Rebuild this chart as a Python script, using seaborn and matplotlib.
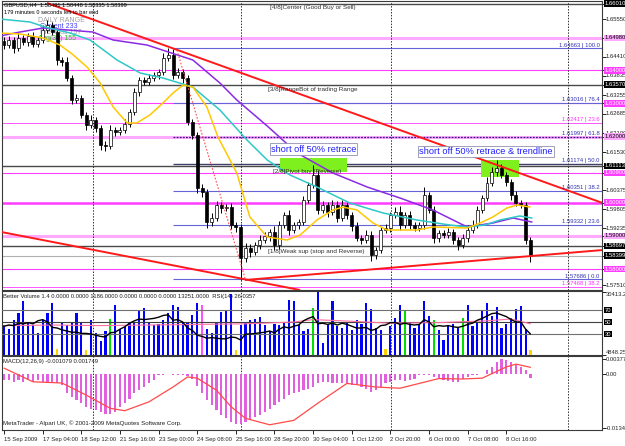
import numpy as np
import pandas as pd
import matplotlib
matplotlib.use("Agg")
import matplotlib.pyplot as plt
import matplotlib.transforms as mtrans
from matplotlib.patches import Rectangle
import seaborn as sns

# ---------------- data ----------------
first_open = 1.64900
closes = [1.64765, 1.64916, 1.64674, 1.64976, 1.64855, 1.65037, 1.64795, 1.64916, 1.65218, 1.65369,
          1.65157, 1.64312, 1.64251, 1.63768, 1.63104, 1.63164, 1.62651, 1.62349, 1.62500, 1.62258,
          1.61745, 1.61715, 1.62198, 1.62137, 1.62198, 1.62379, 1.62741, 1.63345, 1.63708, 1.63647,
          1.63768, 1.63859, 1.63949, 1.64372, 1.64463, 1.63859, 1.63949, 1.63768, 1.62439, 1.62047,
          1.60446, 1.60325, 1.59419, 1.59540, 1.59933, 1.59842, 1.59872, 1.59329, 1.59269, 1.58332,
          1.58634, 1.58513, 1.58725, 1.58876, 1.58997, 1.59117, 1.58725, 1.59329, 1.59631, 1.59178,
          1.59329, 1.59419, 1.60084, 1.60537, 1.60839, 1.59782, 1.59933, 1.59721, 1.59933, 1.59540,
          1.59933, 1.59631, 1.59299, 1.58936, 1.58876, 1.59027, 1.58423, 1.58574, 1.59178, 1.59238,
          1.59631, 1.59721, 1.59329, 1.59631, 1.59329, 1.59238, 1.59329, 1.60235, 1.59782, 1.58936,
          1.59087, 1.59027, 1.59117, 1.58876, 1.58725, 1.58936, 1.59178, 1.59329, 1.59782, 1.60144,
          1.60597, 1.60929, 1.61050, 1.60839, 1.60627, 1.60235, 1.59993, 1.59933, 1.58876, 1.58399]
up_wick_pips = [10, 12, 8, 14, 10, 9, 12, 10, 15, 16,
                10, 12, 8, 14, 8, 12, 10, 9, 14, 10,
                8, 12, 14, 10, 8, 16, 10, 12, 9, 10,
                12, 10, 9, 14, 20, 18, 12, 10, 9, 10,
                8, 12, 10, 14, 12, 10, 8, 12, 10, 9,
                16, 12, 10, 14, 12, 10, 18, 12, 10, 14,
                10, 9, 12, 10, 30, 14, 12, 10, 16, 12,
                14, 10, 9, 12, 10, 14, 12, 10, 9, 12,
                10, 14, 18, 10, 12, 10, 9, 24, 10, 12,
                10, 9, 12, 10, 8, 12, 14, 16, 12, 10,
                18, 14, 24, 12, 10, 9, 12, 8, 10, 8]
dn_wick_pips = [12, 9, 14, 10, 8, 12, 10, 9, 10, 8,
                9, 14, 12, 10, 12, 8, 10, 14, 9, 12,
                16, 14, 10, 12, 9, 10, 8, 10, 12, 10,
                9, 10, 12, 8, 10, 12, 10, 14, 10, 12,
                16, 14, 18, 12, 10, 14, 10, 12, 14, 65,
                12, 14, 10, 12, 10, 14, 16, 12, 10, 14,
                10, 12, 9, 10, 8, 12, 10, 14, 10, 12,
                10, 12, 14, 10, 12, 10, 18, 12, 10, 9,
                12, 10, 14, 10, 12, 9, 10, 12, 10, 14,
                12, 10, 9, 12, 14, 10, 12, 9, 10, 8,
                10, 9, 12, 10, 12, 14, 10, 9, 12, 18]

volumes = [14200, 12500, 16700, 20000, 25800, 15800, 14200, 10800, 16700, 20000,
           25000, 3000, 15800, 14200, 15800, 20000, 15800, 2500, 16700, 10800,
           6700, 11700, 17500, 24200, 12500, 13300, 15800, 15800, 21700, 22500,
           15800, 14200, 15000, 16700, 20000, 24200, 23300, 15800, 15800, 19200,
           25000, 24200, 12500, 10800, 15800, 20800, 21200, 29200, 2500, 14200,
           15800, 16700, 17500, 18300, 14200, 11700, 15000, 14200, 15800, 26700,
           25800, 14200, 11700, 12500, 22500, 30400, 6000, 15000, 26000, 14000,
           13000, 16000, 12000, 17000, 15000, 25000, 22000, 13000, 12000, 3000,
           14000, 18000, 24000, 21000, 16000, 13000, 15000, 26000, 19000, 17000,
           12000, 7000, 14000, 15000, 13000, 18000, 24000, 14000, 16000, 21000,
           25000, 19000, 23000, 13000, 15000, 18000, 22000, 23500, 12500, 2500]
vol_green = [22, 64, 83, 89, 95]
vol_yellow = [11, 17, 48, 79, 109]
vol_magenta = [41]

rsi = [43, 45, 44, 48, 47, 49, 47, 52, 54, 50,
       41, 40, 37, 35, 33, 33, 31, 31, 30, 28,
       26, 25, 32, 33, 38, 42, 48, 52, 55, 54,
       55, 56, 58, 61, 62, 53, 54, 50, 40, 36,
       28, 26, 23, 24, 23, 22, 22, 25, 24, 20,
       30, 30, 31, 32, 33, 35, 32, 38, 42, 40,
       43, 45, 52, 56, 59, 47, 48, 46, 48, 45,
       48, 46, 43, 40, 40, 41, 36, 38, 44, 45,
       49, 49, 46, 48, 46, 45, 46, 54, 50, 42,
       44, 43, 44, 42, 41, 43, 46, 48, 53, 56,
       60, 64, 65, 62, 59, 54, 50, 50, 38, 30]
rsi_sig_bars = [0, 10, 20, 30, 40, 50, 60, 64, 70, 80, 90, 100, 105, 109]
rsi_sig_vals = [44, 45, 44, 45, 46, 47, 50, 54, 52, 48, 49, 52, 55, 47]

macd = [-0.0015, -0.0015, -0.0019, -0.0015, -0.0019, -0.0015, -0.0019, -0.0015, -0.0019, -0.0019,
        -0.0019, -0.0023, -0.0027, -0.0048, -0.0056, -0.0065, -0.0073, -0.0081, -0.0086, -0.0090,
        -0.0094, -0.0098, -0.0098, -0.0094, -0.0081, -0.0073, -0.0061, -0.0048, -0.0040, -0.0032,
        -0.0023, -0.0015, -0.0003, -0.0001, 0.0001, -0.0001, -0.0002, -0.0003, -0.0004, -0.0012,
        -0.0030, -0.0048, -0.0065, -0.0077, -0.0090, -0.0102, -0.0110, -0.0119, -0.0123, -0.0123,
        -0.0119, -0.0115, -0.0106, -0.0102, -0.0094, -0.0086, -0.0077, -0.0069, -0.0061, -0.0052,
        -0.0048, -0.0044, -0.0040, -0.0036, -0.0032, -0.0021, -0.0019, -0.0019, -0.0021, -0.0023,
        -0.0021, -0.0023, -0.0027, -0.0027, -0.0032, -0.0036, -0.0044, -0.0040, -0.0032, -0.0023,
        -0.0019, -0.0015, -0.0015, -0.0017, -0.0015, -0.0013, -0.0002, -0.0001, -0.0002, -0.0008,
        -0.0013, -0.0015, -0.0017, -0.0019, -0.0019, -0.0013, -0.0007, -0.0002, -0.0001, 0.0000,
        0.0010, 0.0018, 0.0031, 0.0038, 0.0035, 0.0031, 0.0023, 0.0018, 0.0011, -0.001079]
signal_bars = [0, 6, 12, 17, 22, 25, 30, 35, 38, 40, 44, 47, 50, 55, 60, 65, 71, 77, 82, 90, 95, 99, 104, 106, 109]
signal_vals = [0.0015, -0.0019, -0.0022, -0.0052, -0.0085, -0.0091, -0.0069, -0.0032, -0.0007, -0.0010,
               -0.0040, -0.0081, -0.0110, -0.0126, -0.0115, -0.0072, -0.0023, -0.0032, -0.0035, -0.0011,
               -0.0012, -0.0010, 0.0018, 0.0025, 0.0017]

ma_fast_bars = [-0.8, 3.3, 8.1, 11.6, 14.1, 17.2, 19.9, 22.6, 25.5, 27.5, 30.2, 32.9, 35.0, 37.1, 39.1,
                42.0, 44.3, 48.2, 50.9, 54.5, 58.6, 61.3, 64.8, 68.1, 70.2, 73.1, 76.4, 79.3, 85.5,
                88.8, 95.9, 98.6, 101.2, 104.1, 106.2, 108.9]
ma_fast_vals = [1.65127, 1.65097, 1.64976, 1.64765, 1.64493, 1.64100, 1.63617, 1.62892, 1.62409, 1.62409,
                1.62651, 1.63013, 1.63315, 1.63557, 1.63496, 1.62892, 1.61986, 1.60899, 1.59570, 1.58966,
                1.58876, 1.59027, 1.59480, 1.59782, 1.59872, 1.59782, 1.59389, 1.59178, 1.59178, 1.59269,
                1.59238, 1.59389, 1.59570, 1.59842, 1.59933, 1.59872]
ma_mid_bars = [-0.8, 5.4, 8.5, 13.7, 17.8, 23.4, 28.2, 32.9, 39.1, 44.7, 50.3, 54.5, 59.2, 64.8, 71.6,
               78.5, 85.5, 92.3, 95.9, 99.6, 102.7, 106.8, 109.3]
ma_mid_vals = [1.65550, 1.65459, 1.65308, 1.65127, 1.64916, 1.64312, 1.63919, 1.63768, 1.63496, 1.62802,
               1.61896, 1.61292, 1.60839, 1.60476, 1.59993, 1.59691, 1.59480, 1.59329, 1.59269, 1.59329,
               1.59480, 1.59601, 1.59540]
ma_slow_bars = [-0.8, 3.3, 8.1, 18.4, 22.6, 29.6, 39.1, 44.7, 48.2, 54.5, 60.7, 68.1, 75.2, 82.0, 88.8,
                95.9, 101.2, 105.4, 109.3]
ma_slow_vals = [1.65037, 1.65157, 1.65278, 1.65157, 1.64916, 1.64765, 1.64312, 1.63617, 1.63104, 1.62319,
                1.61503, 1.60899, 1.60476, 1.60144, 1.59782, 1.59269, 1.59389, 1.59540, 1.59419]

trend_upper = ([8.9, 124.0], [1.66033, 1.59990])
trend_lower_left = ([-1.0, 61.3], [1.59130, 1.57366])
trend_support = ([49.9, 124.0], [1.57668, 1.58574])
trend_dotted = ([35.8, 49.9], [1.64614, 1.57728])

murrey_levels = [1.66010, 1.63570, 1.61113, 1.58697]
round_thin_levels = [1.64000, 1.63000, 1.60900, 1.58000]
round_thick_levels = [1.64980, 1.62000, 1.59000]
round_main_level = 1.60000
bid_level = 1.58399
fib_start_bar = 35.0
fib_levels = [1.64663, 1.63016, 1.61997, 1.61174, 1.60351, 1.59332, 1.57686]
fib_labels = ["1.64663 | 100.0", "1.63016 | 76.4", "1.61997 | 61.8", "1.61174 | 50.0",
              "1.60351 | 38.2", "1.59332 | 23.6", "1.57686 | 0.0"]
fib2_levels = [1.62417, 1.57468]
fib2_labels = ["1.62417 | 23.6", "1.57468 | 38.2"]

price_ticks = [1.65550, 1.64410, 1.63835, 1.63255, 1.62685, 1.62100, 1.61530, 1.60375, 1.59805, 1.59235, 1.57510]
week_separators = [18.4, 49.1, 80.1, 116.8]
x_tick_bars = [0, 8, 16, 24, 32, 40, 48, 56, 64, 72, 80, 88, 96, 104]
x_tick_labels = ["15 Sep 2009", "17 Sep 04:00", "18 Sep 12:00", "21 Sep 16:00", "23 Sep 00:00",
                 "24 Sep 08:00", "25 Sep 16:00", "28 Sep 20:00", "30 Sep 04:00", "1 Oct 12:00",
                 "2 Oct 20:00", "6 Oct 00:00", "7 Oct 08:00", "8 Oct 16:00"]

assert len(closes) == len(up_wick_pips) == len(dn_wick_pips) == len(volumes) == len(rsi) == len(macd) == 110

# ---------------- style ----------------
sns.set_theme(style="white")
plt.rcParams['font.family'] = ['Liberation Sans', 'DejaVu Sans']
FS = 4.2
W, H = 625, 446
X0, DX = 4.0, 4.83
BLUE_FIB = '#6464d8'
MAG = '#ff3cff'
LPINK = '#ffaaff'
DGREY = '#4a4a4a'

fig = plt.figure(figsize=(W / 100, H / 100), dpi=100)
fig.patch.set_facecolor('white')


def rect(top, bottom):
    return [2 / W, 1 - bottom / H, 600 / W, (bottom - top) / H]


def ftext(x, y, s, **kw):
    kw.setdefault('fontsize', FS)
    kw.setdefault('va', 'center')
    return fig.text(x / W, 1 - y / H, s, **kw)


ax = fig.add_axes(rect(1, 290))
axv = fig.add_axes(rect(291, 355))
axr = fig.add_axes(rect(291, 355))
axr.patch.set_alpha(0)
axm = fig.add_axes(rect(356, 430))

xlim = ((2 - X0) / DX, (602 - X0) / DX)
idx = np.arange(len(closes))
closes_a = np.array(closes)
opens_a = np.r_[first_open, closes_a[:-1]]
highs = np.maximum(opens_a, closes_a) + np.array(up_wick_pips) * 1e-4
lows = np.minimum(opens_a, closes_a) - np.array(dn_wick_pips) * 1e-4

# ---------------- main price panel ----------------
for lv in murrey_levels:
    ax.axhline(lv, color=DGREY, lw=1.0, zorder=1)
for lv in round_thin_levels:
    ax.axhline(lv, color=MAG, lw=0.8, zorder=1)
for lv in round_thick_levels:
    ax.axhline(lv, color=LPINK, lw=2.2, zorder=1)
ax.axhline(round_main_level, color=MAG, lw=1.8, zorder=1)
ax.axhline(bid_level, color='#b0b0b0', lw=0.8, zorder=1)
for lv in fib2_levels:
    ax.axhline(lv, color='#ff55ff', lw=0.7, zorder=1)
for lv, lab in zip(fib_levels, fib_labels):
    if lab.endswith('61.8'):
        ax.hlines(lv, fib_start_bar, xlim[1], color='#302080', lw=0.9, ls=(0, (1.5, 1)), zorder=1.2)
    elif lab.endswith('50.0'):
        ax.hlines(lv, fib_start_bar, xlim[1], color='#40406a', lw=1.0, zorder=1.2)
    else:
        ax.hlines(lv, fib_start_bar, xlim[1], color=BLUE_FIB, lw=0.8, zorder=1.2)

# green highlight boxes
for (x0, y0, x1, y1) in [(280, 158, 347, 172), (481, 160, 519, 177)]:
    ax.add_patch(Rectangle((x0 / W, 1 - y1 / H), (x1 - x0) / W, (y1 - y0) / H,
                           transform=fig.transFigure, fc='#7ef01e', ec='none', zorder=1.5))

# candles
ax.vlines(idx, lows, highs, color='black', lw=0.7, zorder=3)
body_bot = np.minimum(opens_a, closes_a)
body_h = np.maximum(np.abs(closes_a - opens_a), 0.00008)
body_col = np.where(closes_a >= opens_a, 'white', 'black')
ax.bar(idx, body_h, bottom=body_bot, width=0.62, color=body_col, edgecolor='black', lw=0.5, zorder=3.1)

# moving averages
sns.lineplot(x=ma_slow_bars, y=ma_slow_vals, ax=ax, color='#8a2be2', linewidth=1.1, zorder=4)
sns.lineplot(x=ma_mid_bars, y=ma_mid_vals, ax=ax, color='#2ec8c8', linewidth=1.1, zorder=4)
sns.lineplot(x=ma_fast_bars, y=ma_fast_vals, ax=ax, color='#ffc800', linewidth=1.1, zorder=4)

# trendlines
for xs, ys in [trend_upper, trend_lower_left, trend_support]:
    ax.plot(xs, ys, color='#ff1a1a', lw=1.4, zorder=5, solid_capstyle='butt')
ax.plot(trend_dotted[0], trend_dotted[1], color='#ff5050', lw=0.8, ls=(0, (1.5, 1.5)), zorder=5)

for xb in week_separators:
    for a in (ax, axv, axm):
        a.axvline(xb, color='#303030', lw=0.7, ls=(0, (1.5, 1.5)), zorder=2)

ax.set_xlim(*xlim)
ax.set_ylim(1.57366, 1.66094)
ax.set_xlabel('')
ax.set_ylabel('')

# texts inside main panel
ftext(4, 5, "GBPUSD,H4  1.58491 1.58448 1.58335 1.58399", fontsize=4.1, color='black', zorder=7)
ftext(4, 12, "179 minutes 0 seconds left to bar end", fontsize=4.1, color='black', zorder=7)
ax.text(38 / W, 1 - 20 / H, "DAILY RANGE", transform=fig.transFigure, fontsize=5, color='#a0a0a0', va='center', zorder=2)
ax.text(40 / W, 1 - 26.5 / H, "Current 233", transform=fig.transFigure, fontsize=5, color='#4040ff', va='center', zorder=2)
ax.text(40 / W, 1 - 32.5 / H, "Previous 157", transform=fig.transFigure, fontsize=5, color='#a0a0a0', va='center', zorder=2)
ax.text(38 / W, 1 - 38.5 / H, "Avg(30) 155", transform=fig.transFigure, fontsize=5, color='#20c020', va='center', zorder=2)

ftext(270, 8, "[4/8]Center (Good Buy or Sell)", fontsize=4.6, color='#303030', zorder=7)
ftext(268, 89.5, "[3/8]RangeBot of trading Range", fontsize=4.6, color='#303030', zorder=7)
ftext(273, 171, "[2/8]Pivot buy (Reverse)", fontsize=4.6, color='#303030', zorder=7)
ftext(268, 252, "[1/8]Weak sup (stop and Reverse)", fontsize=4.6, color='#303030', zorder=7)

box_kw = dict(boxstyle='square,pad=0.12', fc='white', ec='#9090b0', lw=0.6)
ftext(313.5, 149, "short off 50% retrace", fontsize=6.6, color='#2020ff', ha='center', bbox=box_kw, zorder=8)
ftext(486, 151.5, "short off 50% retrace & trendline", fontsize=6.7, color='#2020ff', ha='center', bbox=box_kw, zorder=8)

blend = mtrans.blended_transform_factory(ax.transAxes, ax.transData)
for lv, lab in zip(fib_levels, fib_labels):
    ax.text(0.996, lv + 0.00025, lab, transform=blend, ha='right', va='bottom', fontsize=FS, color='#3232b4', zorder=7)
for lv, lab in zip(fib2_levels, fib2_labels):
    ax.text(0.996, lv + 0.00025, lab, transform=blend, ha='right', va='bottom', fontsize=FS, color='#ff30ff', zorder=7)

# right price axis
box_levels = murrey_levels + [bid_level] + round_thin_levels + round_thick_levels + [round_main_level]
all_ticks = price_ticks + box_levels
ax.set_yticks(all_ticks)
ax.tick_params(axis='y', right=True, left=False, labelleft=False, labelright=False,
               length=3, width=0.6, color='black', direction='out')
ax.tick_params(axis='x', bottom=False, labelbottom=False)
for lv in price_ticks:
    ax.text(1 + 4 / 600, lv, f"{lv:.5f}", transform=blend, ha='left', va='center', fontsize=FS,
            color='#202020', clip_on=False)


def boxed(axis, tr, val, s, fc, tc):
    axis.text(1 + 3 / 600, val, s, transform=tr, ha='left', va='center', fontsize=FS, color=tc,
              clip_on=False, bbox=dict(boxstyle='square,pad=0.15', fc=fc, ec='none'), zorder=9)


for lv in murrey_levels + [bid_level]:
    boxed(ax, blend, lv, f"{lv:.5f}", 'black', 'white')
for lv in round_thin_levels + [round_main_level]:
    boxed(ax, blend, lv, f"{lv:.5f}", MAG, 'white')
for lv in round_thick_levels:
    boxed(ax, blend, lv, f"{lv:.5f}", LPINK, 'black')

# ---------------- volume + RSI panel ----------------
vcols = ['#0000ff'] * len(volumes)
for i in vol_green:
    vcols[i] = '#00e000'
for i in vol_yellow:
    vcols[i] = '#ffd200'
for i in vol_magenta:
    vcols[i] = '#ff50ff'
axv.bar(idx, volumes, width=0.45, color=vcols, lw=0, zorder=3)
axv.set_xlim(*xlim)
axv.set_ylim(0, 30800)

for lv, c in [(70, '#707070'), (50, '#404040'), (30, '#707070')]:
    axr.axhline(lv, color=c, lw=0.8, zorder=1)
sns.lineplot(x=rsi_sig_bars, y=rsi_sig_vals, ax=axr, color='#ff6fa0', linewidth=0.8, zorder=4)
sns.lineplot(x=idx, y=rsi, ax=axr, color='black', linewidth=1.0, zorder=5)
axr.set_xlim(*xlim)
axr.set_ylim(-5, 101.7)
for a in (axv, axr):
    a.set_xlabel('')
    a.set_ylabel('')
axr.axis('off')
axv.tick_params(axis='x', bottom=False, labelbottom=False)
axv.set_yticks([30413.2, 0])
axv.tick_params(axis='y', right=True, left=False, labelleft=False, labelright=False, length=3, width=0.6,
                color='black', direction='out')
vblend = mtrans.blended_transform_factory(axv.transAxes, axv.transData)
rblend = mtrans.blended_transform_factory(axr.transAxes, axr.transData)
axv.text(1 + 4 / 600, 30413.2, "30413.2", transform=vblend, ha='left', va='top', fontsize=FS, clip_on=False)
axv.text(1 + 4 / 600, 0, "4848.25", transform=vblend, ha='left', va='bottom', fontsize=FS, clip_on=False)
for lv in (70, 50, 30):
    boxed(axr, rblend, lv, f"{lv}", 'black', 'white')
ftext(3, 296.5, "Better Volume 1.4 0.0000 0.0000 1186.0000 0.0000 0.0000 0.0000 13251.0000  RSI(14) 26.0357",
      color='#202020', zorder=9)

# ---------------- MACD panel ----------------
axm.bar(idx, macd, width=0.45, color='#e060e0', lw=0, zorder=3)
sns.lineplot(x=signal_bars, y=signal_vals, ax=axm, color='#ff4a4a', linewidth=0.9, zorder=4)
axm.set_xlim(*xlim)
axm.set_ylim(-0.0139, 0.00452)
axm.set_xlabel('')
axm.set_ylabel('')
axm.set_yticks([0.003773, 0.0, -0.013407])
axm.tick_params(axis='y', right=True, left=False, labelleft=False, labelright=False, length=3, width=0.6,
                color='black', direction='out')
mblend = mtrans.blended_transform_factory(axm.transAxes, axm.transData)
for v, s in [(0.003773, "0.003773"), (0.0, "0.00"), (-0.013407, "-0.013407")]:
    axm.text(1 + 4 / 600, v, s, transform=mblend, ha='left', va='center', fontsize=FS, clip_on=False)
axm.set_xticks(x_tick_bars)
axm.set_xticklabels(x_tick_labels, fontsize=FS, ha='left')
axm.tick_params(axis='x', bottom=True, length=3, width=0.6, color='black', pad=2.0, direction='out')
ftext(3, 362, "MACD(12,26,9) -0.001079 0.001749", color='#202020', zorder=9)
ftext(3, 423, "MetaTrader - Alpari UK, \u00a9 2001-2009 MetaQuotes Software Corp.", fontsize=4.4,
      color='#202020', zorder=9)

for a in (ax, axv, axm):
    for sp in a.spines.values():
        sp.set_color('#3a3a3a')
        sp.set_linewidth(0.8)
    a.set_facecolor('white')
axv.set_zorder(0)
axr.set_zorder(1)

fig.savefig('out.png', dpi=100)
